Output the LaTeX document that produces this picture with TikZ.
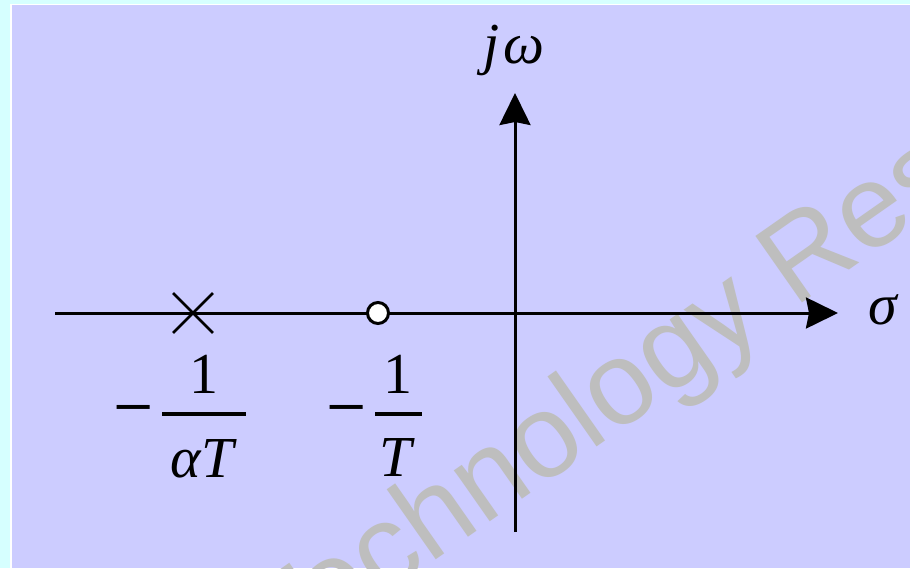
\documentclass[tikz,border=0pt]{standalone}
\usepackage{fontspec}
\setmainfont{Liberation Serif}
\newfontfamily\wmfont{Liberation Sans}
\newfontfamily\minusfont{DejaVu Sans}
\usetikzlibrary{arrows.meta,shapes.misc}
\definecolor{bgl}{HTML}{CCCCFF}
\definecolor{brd}{HTML}{D6FFFF}
\definecolor{wmc}{HTML}{BEBEBE}
\begin{document}
\begin{tikzpicture}[x=1pt,y=-1pt,
  axis/.style={line width=3pt,-{Stealth[length=32pt,width=31pt,inset=3pt]}},
  lbl/.style={inner sep=0pt,font=\fontsize{58}{60}\selectfont},
  minuslbl/.style={inner sep=0pt,font=\minusfont\fontsize{48}{50}\selectfont,xscale=1.1},
  axlbl/.style={inner sep=0pt,font=\fontsize{58}{60}\selectfont\itshape},
  bar/.style={line width=3.5pt},
  pole/.style={cross out,draw=black,line width=2.8pt,minimum size=37pt,inner sep=0pt},
  zero/.style={circle,draw=black,fill=white,line width=3pt,minimum size=21pt,inner sep=0pt}]
\useasboundingbox (0,0) rectangle (910,568);
\clip (0,0) rectangle (910,568);
% background
\fill[brd] (0,0) rectangle (910,568);
\fill[white] (10,4) rectangle (910,568);
\fill[bgl] (12,5) rectangle (910,568);
% watermark
\node[rotate=35,anchor=base west,text=wmc,inner sep=0pt,font=\wmfont\fontsize{118}{120}\selectfont] (wm) at (279,670) {Technology Res};
% axes
\coordinate (xs) at (55,313);
\coordinate (xe) at (838,313);
\coordinate (ys) at (515,532);
\coordinate (ye) at (515,93);
\draw[axis] (xs) -- (xe);
\draw[axis] (ys) -- (ye);
\node[axlbl,anchor=base] (jw) at (514,63) {j\kern3ptω};
\node[axlbl,anchor=base] (sig) at (883,324) {σ};
% pole and zero
\node[pole] (p) at (193,313) {};
\node[zero] (z) at (378,313) {};
% labels
\node[minuslbl,anchor=center] (m1) at (133.5,414) {−};
\node[lbl,anchor=base] (n1) at (203.5,393) {1};
\coordinate (b1l) at (162,414);
\coordinate (b1r) at (246,414);
\draw[bar] (b1l) -- (b1r);
\node[lbl,anchor=base] (d1) at (202,477) {\itshape αT};
\node[minuslbl,anchor=center] (m2) at (347,414) {−};
\node[lbl,anchor=base] (n2) at (398,393) {1};
\coordinate (b2l) at (375,414);
\coordinate (b2r) at (422,414);
\draw[bar] (b2l) -- (b2r);
\node[lbl,anchor=base] (d2) at (396,476) {\itshape T};
\end{tikzpicture}
\end{document}
